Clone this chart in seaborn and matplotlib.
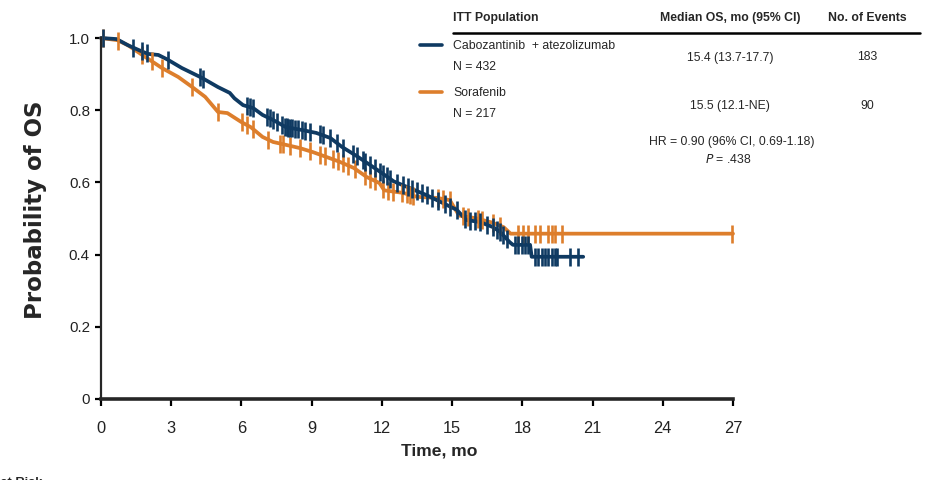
import numpy as np
import pandas as pd
import matplotlib
matplotlib.use("Agg")
import matplotlib.pyplot as plt
import matplotlib.font_manager as fm
from matplotlib.lines import Line2D
import seaborn as sns

# ---------------- data ----------------
cabo_t = [0, 0.67, 1.15, 1.6, 2.0, 2.45, 2.85, 3.45, 4.3, 5.0, 5.5, 5.7, 6.07, 6.5, 6.9,
          7.35, 7.9, 8.6, 9.2, 9.8, 10.3, 10.9, 11.5, 12.0, 12.5, 13.2, 13.9, 14.6, 15.2,
          15.6, 16.2, 16.75, 17.05, 17.45, 17.6, 18.33, 18.4, 20.6]
cabo_s = [1.0, 0.997, 0.98, 0.967, 0.956, 0.953, 0.94, 0.917, 0.89, 0.864, 0.848, 0.833,
          0.814, 0.806, 0.787, 0.773, 0.753, 0.745, 0.737, 0.723, 0.698, 0.674, 0.648,
          0.626, 0.603, 0.584, 0.565, 0.543, 0.524, 0.496, 0.49, 0.476, 0.463, 0.435,
          0.427, 0.427, 0.394, 0.394]
cabo_cens = [0.1, 1.38, 1.74, 1.95, 2.88, 4.23, 4.37, 6.22, 6.36, 6.51, 7.08, 7.22, 7.36,
             7.5, 7.72, 7.86, 7.93, 8.0, 8.07, 8.15, 8.29, 8.43, 8.57, 8.71, 8.93, 9.35,
             9.5, 9.78, 10.07, 10.35, 10.78, 10.92, 11.2, 11.28, 11.49, 11.7, 11.92, 12.06,
             12.2, 12.35, 12.63, 12.91, 13.13, 13.27, 13.49, 13.7, 13.91, 14.13, 14.41,
             14.7, 14.91, 15.19, 15.55, 15.76, 15.98, 16.19, 16.48, 16.76, 16.9, 17.04,
             17.19, 17.33, 17.69, 17.81, 17.97, 18.11, 18.24, 18.54, 18.68, 18.83, 18.97,
             19.11, 19.25, 19.39, 19.47, 20.03, 20.39]

sora_t = [0, 0.7, 1.15, 1.9, 2.3, 2.6, 3.3, 3.9, 4.45, 5.0, 5.4, 6.0, 6.4, 6.9, 7.35, 7.9,
          8.5, 9.05, 9.65, 10.2, 10.8, 11.35, 11.9, 12.1, 12.9, 13.5, 14.35, 14.9, 15.3,
          16.0, 16.75, 17.2, 17.5, 27.0]
sora_s = [1.0, 0.994, 0.98, 0.947, 0.93, 0.917, 0.892, 0.864, 0.837, 0.795, 0.792, 0.767,
          0.753, 0.726, 0.712, 0.704, 0.695, 0.684, 0.67, 0.657, 0.64, 0.615, 0.598,
          0.578, 0.571, 0.56, 0.557, 0.551, 0.508, 0.501, 0.488, 0.476, 0.458, 0.458]
sora_cens = [0.1, 0.74, 1.74, 2.16, 2.59, 3.87, 5.01, 6.01, 6.22, 6.51, 7.15, 7.65, 7.79,
             8.07, 8.5, 8.93, 9.35, 9.57, 9.92, 10.14, 10.35, 10.56, 10.85, 11.28, 11.49,
             11.7, 12.06, 12.27, 12.49, 12.85, 13.06, 13.2, 13.34, 14.41, 14.62, 14.91,
             15.48, 15.69, 16.12, 16.26, 16.76, 17.04, 17.83, 18.04, 18.25, 18.54, 18.75,
             19.11, 19.25, 19.39, 19.68, 26.94]

x_ticks = [0, 3, 6, 9, 12, 15, 18, 21, 24, 27]
y_ticks = [0, 0.2, 0.4, 0.6, 0.8, 1.0]
y_ticklabels = ["0", "0.2", "0.4", "0.6", "0.8", "1.0"]

arm_names = ["Cabozantinib  + atezolizumab", "Sorafenib"]
arm_n = ["N = 432", "N = 217"]
arm_median = ["15.4 (13.7-17.7)", "15.5 (12.1-NE)"]
arm_events = ["183", "90"]

BLUE = "#0F3A62"
ORANGE = "#DD7E2C"

# ---------------- style ----------------
sns.set_theme(style="ticks")
names = {f.name for f in fm.fontManager.ttflist}
if "Liberation Sans Narrow" in names:
    NARROW, K = "Liberation Sans Narrow", 1.0
else:
    NARROW, K = "Liberation Sans", 0.84
plt.rcParams["font.family"] = [NARROW, "DejaVu Sans"]

W, H = 933, 480
fig = plt.figure(figsize=(W / 100, H / 100), dpi=100)
fig.patch.set_facecolor("white")

def fx(x):
    return x / W

def fy(y):
    return 1 - y / H

ax = fig.add_axes([fx(101), fy(399), (733 - 101) / W, (399 - 38) / H])
ax.set_facecolor("white")

# curves
for t, s, c in [(sora_t, sora_s, ORANGE), (cabo_t, cabo_s, BLUE)]:
    sns.lineplot(x=t, y=s, ax=ax, color=c, lw=2.7, estimator=None, sort=False,
                 clip_on=False, solid_joinstyle="round")

# censor marks
for t, s, cens, c in [(sora_t, sora_s, sora_cens, ORANGE), (cabo_t, cabo_s, cabo_cens, BLUE)]:
    cy = np.interp(cens, t, s)
    sns.scatterplot(x=cens, y=cy, ax=ax, marker="|", s=150, linewidth=1.9,
                    color=c, clip_on=False, zorder=3)

ax.set_xlim(0, 27)
ax.set_ylim(0, 1.0)
ax.set_xticks(x_ticks)
ax.set_xticklabels([str(v) for v in x_ticks])
ax.set_yticks(y_ticks)
ax.set_yticklabels(y_ticklabels)
sns.despine(ax=ax)
ax.spines["left"].set_linewidth(1.6)
ax.spines["bottom"].set_linewidth(2.6)
ax.tick_params(axis="y", direction="out", length=4, width=1.6, pad=4,
               labelsize=13 * K, colors="black")
ax.tick_params(axis="x", direction="out", length=5, width=1.6, pad=11,
               labelsize=14 * K, colors="black")
for lab in ax.get_xticklabels() + ax.get_yticklabels():
    lab.set_color("#222222")

ax.set_xlabel("Time, mo", fontsize=15 * K, fontweight="bold", va="center")
ax.xaxis.set_label_coords((439 - 101) / 632, (399 - 451) / 361)
ax.set_ylabel("Probability of OS", fontsize=16.5, fontweight="bold",
              family=["DejaVu Sans"], va="center")
ax.yaxis.set_label_coords((36 - 101) / 632, (399 - 210) / 361)

# ---------------- legend table ----------------
fs = 10.5 * K
fig.text(fx(453), fy(18), "ITT Population", fontsize=fs, fontweight="bold",
         ha="left", va="center")
fig.text(fx(730), fy(18), "Median OS, mo (95% CI)", fontsize=fs, fontweight="bold",
         ha="center", va="center")
fig.text(fx(867), fy(18), "No. of Events", fontsize=fs, fontweight="bold",
         ha="center", va="center")
fig.add_artist(Line2D([fx(453), fx(920)], [fy(32.5), fy(32.5)], color="black", lw=1.8))

rows = [(46, 67, 57.5, BLUE), (92.5, 114, 106, ORANGE)]
for i, (yn, yN, ym, c) in enumerate(rows):
    fig.add_artist(Line2D([fx(420), fx(442)], [fy(yn - 1), fy(yn - 1)], color=c, lw=2.6))
    fig.text(fx(453), fy(yn), arm_names[i], fontsize=fs, ha="left", va="center")
    fig.text(fx(453), fy(yN), arm_n[i], fontsize=fs, ha="left", va="center")
    fig.text(fx(730), fy(ym), arm_median[i], fontsize=fs, ha="center", va="center")
    fig.text(fx(867), fy(ym), arm_events[i], fontsize=fs, ha="center", va="center")

fig.text(fx(732), fy(141.5), "HR = 0.90 (96% CI, 0.69-1.18)", fontsize=fs,
         ha="center", va="center")
fig.text(fx(728), fy(160), r"$\it{P}$ = .438", fontsize=fs, ha="center", va="center")

# footer fragment at the bottom-left corner (cut by the edge in the reference)
fig.text(fx(42), fy(477), "No. at Risk", fontsize=11 * K, fontweight="bold",
         ha="right", va="top")

fig.savefig("out.png", dpi=100, facecolor="white")
